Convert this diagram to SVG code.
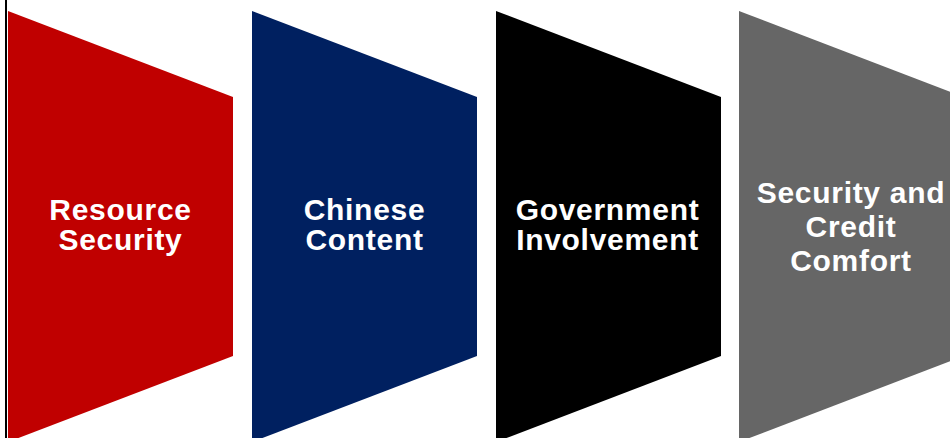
<svg xmlns="http://www.w3.org/2000/svg" width="950" height="438" viewBox="0 0 950 438">
<style>
.lbl{font-family:"Liberation Sans",Arial,sans-serif;font-weight:bold;font-size:30px;letter-spacing:0.7px;fill:#ffffff;text-anchor:middle}
</style>
<rect x="0" y="0" width="950" height="438" fill="#ffffff"/>
<g id="connectors">
<line x1="6" y1="0" x2="6" y2="438" stroke="#000000" stroke-width="2"/>
</g>
<g id="node-resource">
<polygon points="8,11 233,97 233,356 8,442" fill="#C00000"/>
<text class="lbl" x="120.5" y="219.5">Resource</text>
<text class="lbl" x="120.5" y="250">Security</text>
</g>
<g id="node-chinese">
<polygon points="252,11 477,97 477,356 252,442" fill="#002060"/>
<text class="lbl" x="364.5" y="219.5">Chinese</text>
<text class="lbl" x="364.5" y="250">Content</text>
</g>
<g id="node-government">
<polygon points="496,11 721,97 721,356 496,442" fill="#000000"/>
<text class="lbl" x="607.5" y="219.5">Government</text>
<text class="lbl" x="607.5" y="250">Involvement</text>
</g>
<g id="node-security">
<polygon points="739,11 964,97 964,356 739,442" fill="#666666"/>
<text class="lbl" x="851" y="203.3">Security and</text>
<text class="lbl" x="851" y="237">Credit</text>
<text class="lbl" x="851" y="270.7">Comfort</text>
</g>
</svg>
